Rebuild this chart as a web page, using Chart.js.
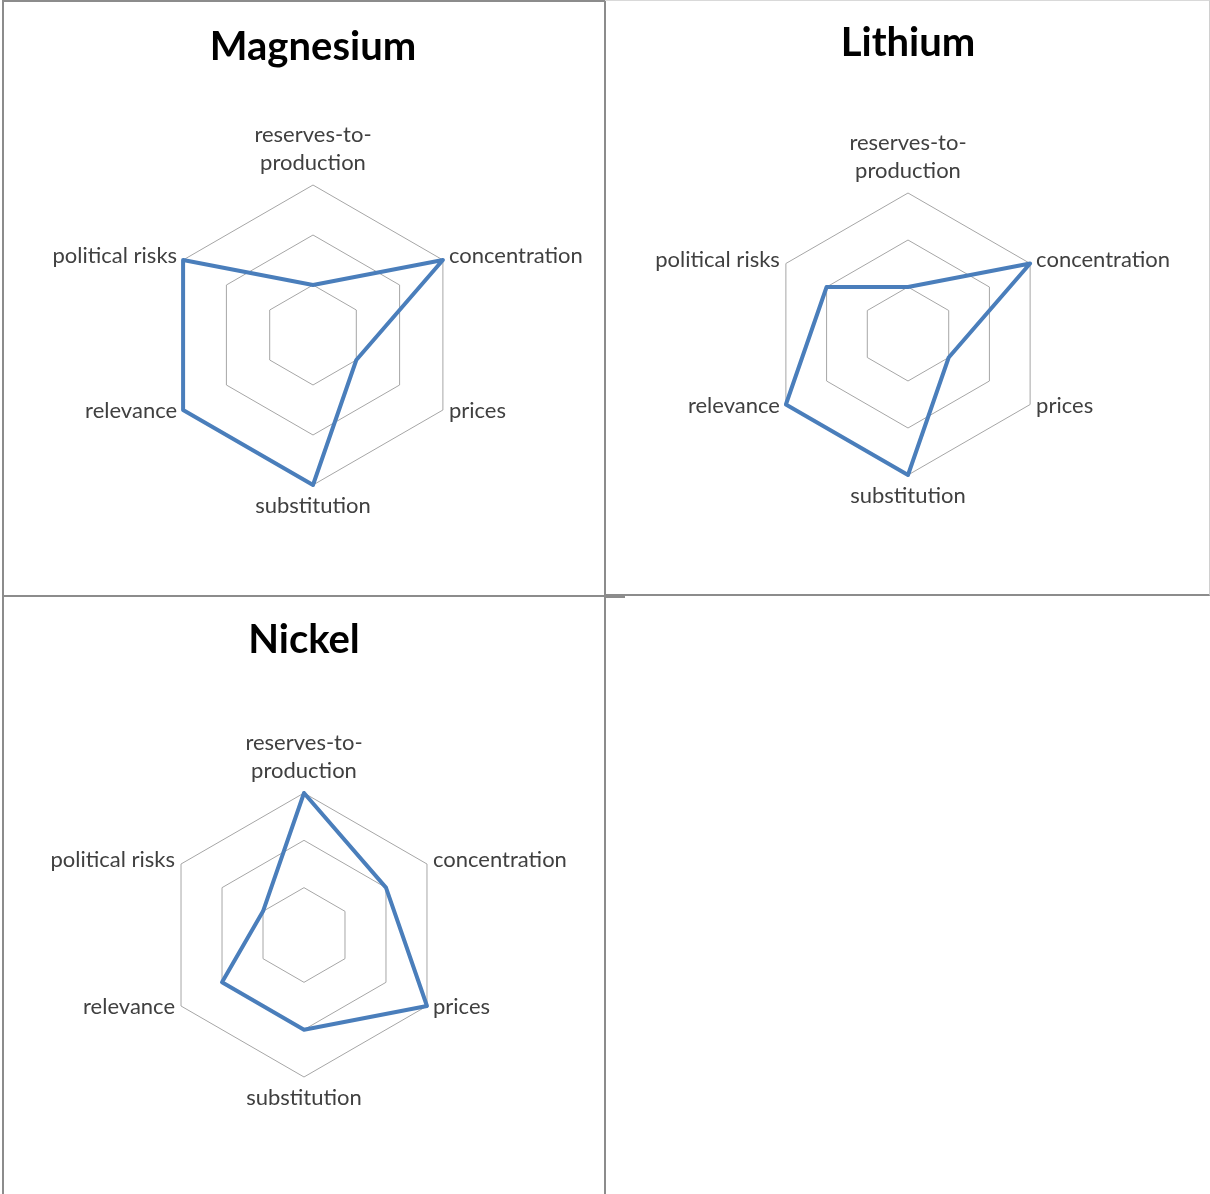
<!DOCTYPE html>
<html>
<head>
<meta charset="utf-8">
<title>Raw material criticality profiles</title>
<script src="https://cdn.jsdelivr.net/npm/chart.js@4.4.1/dist/chart.umd.min.js"></script>
<style>
  html, body { margin: 0; padding: 0; background: #fff; overflow: hidden; }
  body { width: 1210px; height: 1194px; position: relative; }
  .panel { position: absolute; box-sizing: border-box; }
  canvas { position: absolute; }
</style>
</head>
<body>
<div class="panel" style="left:2px;top:0;width:604px;height:597px;border:2px solid #8c8c8c;"></div>
<div class="panel" style="left:605px;top:0;width:605px;height:596px;border-top:1px solid #d9d9d9;border-right:1px solid #d0d0d0;border-bottom:2px solid #8c8c8c;"></div>
<div class="panel" style="left:2px;top:595px;width:604px;height:600px;border:2px solid #8c8c8c;border-bottom:none;"></div>
<div class="panel" style="left:605px;top:594px;width:20px;height:4px;background:#8c8c8c;"></div>

<canvas id="magnesium" width="600" height="592" style="left:4px;top:2px;"></canvas>
<canvas id="lithium" width="603" height="593" style="left:605px;top:1px;"></canvas>
<canvas id="nickel" width="600" height="597" style="left:4px;top:597px;"></canvas>

<script>
// Criticality indicators, clockwise from the top
const categories = [['reserves-to-', 'production'], 'concentration', 'prices', 'substitution', 'relevance', 'political risks'];

// Scores on a 1–3 scale per raw material
const magnesiumValues = [1, 3, 1, 3, 3, 3];
const lithiumValues   = [1, 3, 1, 3, 3, 2];
const nickelValues    = [3, 2, 3, 2, 2, 1];

const scaleMin = 0;
const scaleMax = 3;
const scaleStep = 1;

const LABEL_FONT = '22px Lato, "Open Sans", sans-serif';
const LABEL_LINE = 28;
const TITLE_FONT = { family: 'Lato, "Open Sans", sans-serif', size: 40, weight: 'bold', lineHeight: '47px' };

// Draws the category names just outside each corner of the outer hexagon
const axisLabels = {
  id: 'axisLabels',
  afterDatasetsDraw(chart) {
    const scale = chart.scales.r;
    const ctx = chart.ctx;
    ctx.save();
    ctx.font = LABEL_FONT;
    ctx.fillStyle = '#404040';
    ctx.textBaseline = 'alphabetic';
    chart.data.labels.forEach((label, i) => {
      const lines = Array.isArray(label) ? label : [label];
      const p = scale.getPointPosition(i, scale.drawingArea);
      const cos = Math.cos(p.angle);
      const sin = Math.sin(p.angle);
      let x = p.x;
      let baseline;
      if (Math.abs(cos) < 1e-6) {
        ctx.textAlign = 'center';
        baseline = sin < 0 ? p.y - 15 - (lines.length - 1) * LABEL_LINE : p.y + 28;
      } else {
        ctx.textAlign = cos > 0 ? 'left' : 'right';
        x += cos > 0 ? 6 : -6;
        baseline = sin < 0 ? p.y + 3 : p.y + 8;
      }
      lines.forEach((ln, k) => ctx.fillText(ln, x, baseline + k * LABEL_LINE));
    });
    ctx.restore();
  }
};

function makeRadar(id, title, values, box) {
  return new Chart(document.getElementById(id), {
    type: 'radar',
    data: {
      labels: categories,
      datasets: [{
        label: title,
        data: values,
        borderColor: '#4a7ebb',
        borderWidth: 4,
        borderJoinStyle: 'round',
        backgroundColor: 'rgba(0,0,0,0)',
        fill: false,
        pointRadius: 0,
        pointHoverRadius: 0,
        tension: 0,
        clip: false
      }]
    },
    options: {
      responsive: false,
      animation: false,
      devicePixelRatio: 1,
      layout: { padding: { left: box.left, right: box.right, top: 0, bottom: box.bottom } },
      plugins: {
        legend: { display: false },
        tooltip: { enabled: false },
        title: {
          display: true,
          text: title,
          color: '#000000',
          font: TITLE_FONT,
          padding: { top: box.titleTop, bottom: box.titleBottom }
        }
      },
      scales: {
        r: {
          min: scaleMin,
          max: scaleMax,
          beginAtZero: true,
          ticks: { display: false, stepSize: scaleStep },
          grid: { color: '#a6a6a6', lineWidth: 1, circular: false },
          angleLines: { display: false },
          pointLabels: { display: false }
        }
      }
    },
    plugins: [axisLabels]
  });
}

makeRadar('magnesium', 'Magnesium', magnesiumValues, { left: 159, right: 141, bottom: 109, titleTop: 22, titleBottom: 114 });
makeRadar('lithium', 'Lithium', lithiumValues, { left: 162, right: 159, bottom: 119, titleTop: 19, titleBottom: 126 });
makeRadar('nickel', 'Nickel', nickelValues, { left: 158, right: 158, bottom: 117, titleTop: 20, titleBottom: 129 });
</script>
</body>
</html>
